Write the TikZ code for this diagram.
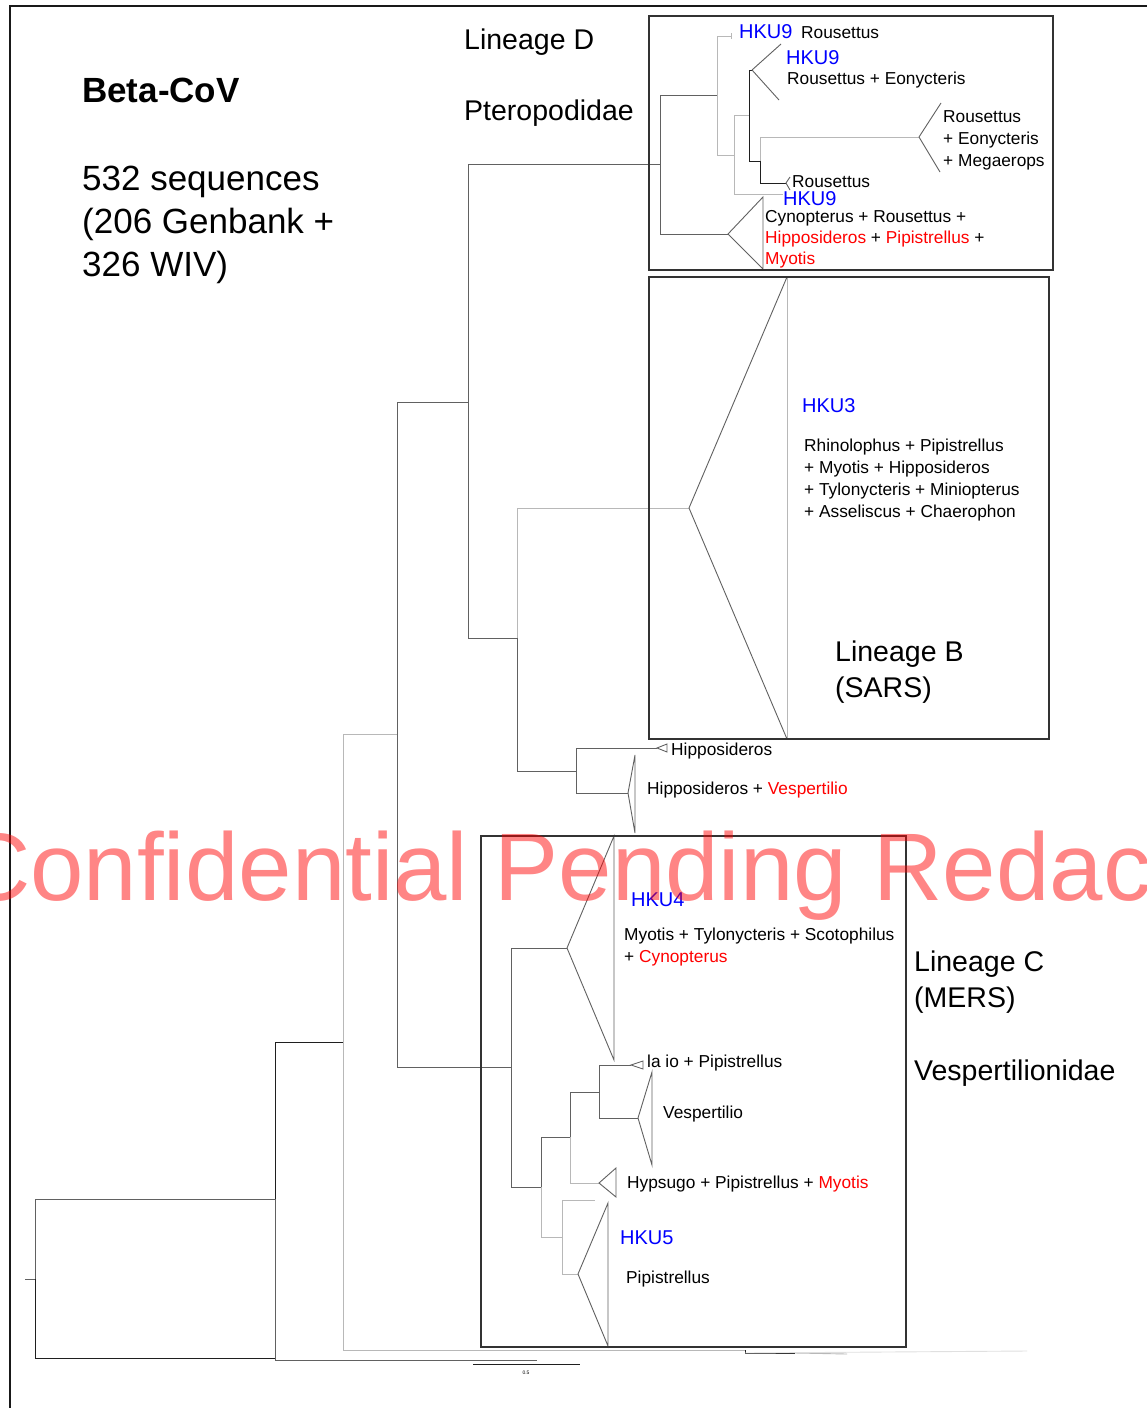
\documentclass[tikz,border=0pt]{standalone}
\usepackage{fontspec}
\setmainfont{Liberation Sans}
\newcommand{\fsz}[1]{\fontsize{#1}{#1}\selectfont}
\definecolor{hkublue}{RGB}{0,0,255}
\definecolor{sppred}{RGB}{255,0,0}
\begin{document}
\begin{tikzpicture}[x=1pt,y=-1pt,
  br/.style={draw=black!62, line width=0.9pt},
  lt/.style={draw=black!28, line width=0.9pt},
  dk/.style={draw=black!88, line width=0.9pt},
  box/.style={draw=black!80, line width=1.3pt},
  lbl/.style={anchor=base west, inner sep=0pt, font=\fsz{17.3}},
  hku/.style={anchor=base west, inner sep=0pt, font=\fsz{20}, text=hkublue},
  big/.style={anchor=base west, inner sep=0pt, font=\fsz{28.5}},
  huge/.style={anchor=base west, inner sep=0pt, font=\fsz{35}},
]
\useasboundingbox (0,0) rectangle (1147,1408);
\fill[white] (0,0) rectangle (1147,1408);

% outer frame
\draw[line width=2pt, black!90] (10,1408) -- (10,5.5) -- (1147,5.5);

% ---------- tree nodes ----------
\coordinate (stub) at (25,1279);
\coordinate (r0) at (35,1279);
\coordinate (og) at (275,1358);
\coordinate (n275) at (275,1199);
\coordinate (l275) at (537,1360);
\coordinate (n343) at (343,1042);
\coordinate (l343) at (745,1350);
\coordinate (n397) at (397,734);
\coordinate (n468) at (468,402);
\coordinate (n511) at (511,1067);
\coordinate (n660) at (660,164);
\coordinate (n517) at (517,638);
\coordinate (n717) at (717,95);
\coordinate (tD) at (728,234);
\coordinate (tick) at (731,36);
\coordinate (n734) at (734,155);
\coordinate (n749) at (749,115);
\coordinate (l734) at (783,194);
\coordinate (t9) at (752,70);
\coordinate (n760) at (760,161);
\coordinate (tRE) at (919,137);
\coordinate (tR) at (786,183);
\coordinate (tB) at (689,508);
\coordinate (n576) at (576,771);
\coordinate (tH) at (657,748);
\coordinate (tHV) at (628,793);
\coordinate (t4) at (567,948);
\coordinate (n541) at (541,1187);
\coordinate (n570) at (570,1137);
\coordinate (n562) at (562,1237);
\coordinate (n599) at (599,1092);
\coordinate (tHy) at (599,1183);
\coordinate (tL) at (631,1065);
\coordinate (tV) at (638,1118);
\coordinate (l562) at (595,1200);
\coordinate (t5) at (578,1274);

% ---------- branches ----------
\draw[br] (stub) -- (r0);
\draw[br] (r0) |- (n275);
\draw[dk] (r0) |- (og);
\draw[dk] (n275) |- (n343);
\draw[br] (n275) |- (l275);
\draw[lt] (n343) |- (n397);
\draw[lt] (n343) |- (l343);
\draw[br] (n397) |- (n468);
\draw[br] (n397) |- (n511);
\draw[br] (n468) |- (n660);
\draw[br] (n468) |- (n517);
\draw[br] (n660) |- (n717);
\draw[br] (n660) |- (tD);
\draw[lt] (n717) |- (tick);
\draw[lt] (n717) |- (n734);
\draw[lt] (n734) |- (n749);
\draw[lt] (n734) |- (l734);
\draw[dk] (n749) |- (t9);
\draw[dk] (n749) |- (n760);
\draw[lt] (n760) |- (tRE);
\draw[dk] (n760) |- (tR);
\draw[lt] (n517) |- (tB);
\draw[br] (n517) |- (n576);
\draw[br] (n576) |- (tH);
\draw[br] (n576) |- (tHV);
\draw[br] (n511) |- (t4);
\draw[br] (n511) |- (n541);
\draw[br] (n541) |- (n570);
\draw[lt] (n541) |- (n562);
\draw[br] (n570) |- (n599);
\draw[lt] (n570) |- (tHy);
\draw[br] (n599) |- (tL);
\draw[br] (n599) |- (tV);
\draw[lt] (n562) |- (l562);
\draw[lt] (n562) |- (t5);

% small clade at the lower edge
\coordinate (s1) at (745,1353);
\coordinate (s2) at (795,1353);
\coordinate (s3) at (847,1354);
\coordinate (s4) at (1027,1351);
\draw[dk] (l343) -- (s1) -- (s2);
\draw[lt] (s2) -- (s3);
\draw[draw=black!12, line width=0.9pt] (s1) -- (s4);

% ---------- collapsed clades ----------
\draw[lt] (tick) ++(0,-3) -- ++(0,6);
\draw[br] (t9) -- (781,44) (t9) -- (779,100);
\draw[br] (tRE) -- (941,103) (tRE) -- (940,172);
\draw[br] (tR) -- (790,177) (tR) -- (790,190);
\draw[br] (tD) -- (763,197) -- (763,269) -- cycle;
\draw[br] (tB) -- (787,277) (tB) -- (787,739);
\draw[lt] (787,277) -- (787,739);
\draw[br] (tH) -- (667,744) -- (667,752) -- cycle;
\draw[br] (tHV) -- (635,755) -- (635,833) -- cycle;
\draw[br] (t4) -- (614,836) -- (614,1060) -- cycle;
\draw[br] (tL) -- (643,1061) -- (643,1069) -- cycle;
\draw[br] (tV) -- (652,1072) -- (652,1165) -- cycle;
\draw[br] (tHy) -- (616,1168) -- (616,1197) -- cycle;
\draw[br] (t5) -- (608,1203) -- (608,1346) -- cycle;

% ---------- lineage boxes ----------
\draw[box] (649,16) rectangle (1053,270);
\draw[box] (649,277) rectangle (1049,739);
\draw[box] (481,836) rectangle (906,1347);

% ---------- headline text ----------
\node[huge, font=\fsz{35}\bfseries] (title) at (82,102) {Beta-CoV};
\node[huge] (seq1) at (82,190) {532 sequences};
\node[huge] (seq2) at (82,233) {(206 Genbank +};
\node[huge] (seq3) at (82,276) {326 WIV)};

\node[big] (linD) at (464,49) {Lineage D};
\node[big] (ptero) at (464,120) {Pteropodidae};
\node[big] (linB) at (835,661) {Lineage B};
\node[big] (sars) at (835,697) {(SARS)};
\node[big] (linC) at (914,971) {Lineage C};
\node[big] (mers) at (914,1007) {(MERS)};
\node[big] (vesp) at (914,1080) {Vespertilionidae};

% ---------- lineage D labels ----------
\node[hku] (hku9a) at (739,38) {HKU9};
\node[lbl] (rou1) at (801,38) {Rousettus};
\node[hku] (hku9b) at (786,64) {HKU9};
\node[lbl] (rouE) at (787,84) {Rousettus + Eonycteris};
\node[lbl] (rou2) at (943,122.5) {Rousettus};
\node[lbl] (eon) at (943,144.5) {+ Eonycteris};
\node[lbl] (meg) at (943,166.5) {+ Megaerops};
\node[lbl] (rou3) at (792,187) {Rousettus};
\node[hku] (hku9c) at (783,205) {HKU9};
\node[lbl] (cyn1) at (765,222) {Cynopterus + Rousettus +};
\node[lbl] (cyn2) at (765,243) {\textcolor{sppred}{Hipposideros} + \textcolor{sppred}{Pipistrellus} +};
\node[lbl, text=sppred] (cyn3) at (765,264.5) {Myotis};

% ---------- lineage B labels ----------
\node[hku] (hku3) at (802,412.5) {HKU3};
\node[lbl] (rh1) at (804,451.5) {Rhinolophus + Pipistrellus};
\node[lbl] (rh2) at (804,473.5) {+ Myotis + Hipposideros};
\node[lbl] (rh3) at (804,495.5) {+ Tylonycteris + Miniopterus};
\node[lbl] (rh4) at (804,517.5) {+ Asseliscus + Chaerophon};

\node[lbl] (hip1) at (671,755) {Hipposideros};
\node[lbl] (hip2) at (647,794) {Hipposideros + \textcolor{sppred}{Vespertilio}};

% ---------- lineage C labels ----------
\node[hku] (hku4) at (631,906) {HKU4};
\node[lbl] (my1) at (624,940) {Myotis + Tylonycteris + Scotophilus};
\node[lbl] (my2) at (624,962) {+ \textcolor{sppred}{Cynopterus}};
\node[lbl] (laio) at (647,1067) {la io + Pipistrellus};
\node[lbl] (vsp) at (663,1118) {Vespertilio};
\node[lbl] (hyp) at (627,1188) {Hypsugo + Pipistrellus + \textcolor{sppred}{Myotis}};
\node[hku] (hku5) at (620,1244) {HKU5};
\node[lbl] (pip) at (626,1283) {Pipistrellus};

% ---------- scale bar ----------
\coordinate (sb1) at (473,1364);
\coordinate (sb2) at (580,1364);
\draw[dk, line width=0.7pt] (sb1) -- (sb2);
\node[anchor=base, inner sep=0pt, font=\fsz{5}] (sbl) at (526,1374) {0.5};

% ---------- watermark ----------
\begin{scope}
\clip (0,0) rectangle (1147,1408);
\node[anchor=base west, inner sep=0pt, font=\fsz{96}, text=red, text opacity=0.48] (wm) at (-39,900) {Confidential Pending Redac};
\end{scope}
\end{tikzpicture}
\end{document}
